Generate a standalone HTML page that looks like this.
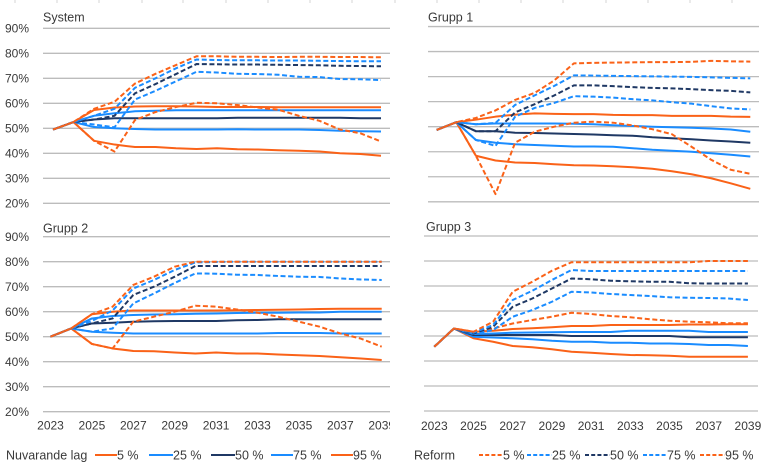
<!DOCTYPE html>
<html><head><meta charset="utf-8">
<style>
html,body{margin:0;padding:0;background:#fff;}
svg{display:block;font-family:"Liberation Sans",Arial,sans-serif;}
.t{font-size:12.5px;fill:#3a3a3a;}
.yl{font-size:12px;fill:#3a3a3a;text-anchor:end;}
.xl{font-size:12px;fill:#3a3a3a;text-anchor:middle;}
</style></head>
<body>
<svg id="c" width="763" height="463" viewBox="0 0 763 463" xmlns="http://www.w3.org/2000/svg">
<defs><clipPath id="cl"><rect x="0" y="0" width="390" height="463"/></clipPath></defs>
<rect width="763" height="463" fill="#fff"/>
<g stroke="#d4d4d4" stroke-width="1">
<line x1="15" y1="0" x2="15" y2="3"/><line x1="57" y1="0" x2="57" y2="3"/><line x1="99" y1="0" x2="99" y2="3"/><line x1="142" y1="0" x2="142" y2="3"/><line x1="183" y1="0" x2="183" y2="3"/><line x1="226" y1="0" x2="226" y2="3"/><line x1="268" y1="0" x2="268" y2="3"/><line x1="310" y1="0" x2="310" y2="3"/><line x1="352" y1="0" x2="352" y2="3"/>
<line x1="395" y1="0" x2="395" y2="3"/><line x1="437" y1="0" x2="437" y2="3"/><line x1="479" y1="0" x2="479" y2="3"/><line x1="521" y1="0" x2="521" y2="3"/><line x1="563" y1="0" x2="563" y2="3"/><line x1="606" y1="0" x2="606" y2="3"/><line x1="648" y1="0" x2="648" y2="3"/><line x1="690" y1="0" x2="690" y2="3"/><line x1="732" y1="0" x2="732" y2="3"/>
</g>
<g id="grids"></g>
<g id="lines"></g>
<!-- titles -->
<text class="t" x="43" y="21.5">System</text>
<text class="t" x="428" y="21.5">Grupp 1</text>
<text class="t" x="43" y="232.5">Grupp 2</text>
<text class="t" x="426" y="231">Grupp 3</text>
<!-- y labels top-left -->
<text class="yl" x="29" y="32.5">90%</text>
<text class="yl" x="29" y="57.5">80%</text>
<text class="yl" x="29" y="82.5">70%</text>
<text class="yl" x="29" y="107.5">60%</text>
<text class="yl" x="29" y="132.5">50%</text>
<text class="yl" x="29" y="157.5">40%</text>
<text class="yl" x="29" y="182.5">30%</text>
<text class="yl" x="29" y="207.5">20%</text>
<!-- y labels bottom-left -->
<text class="yl" x="29" y="240.9">90%</text>
<text class="yl" x="29" y="265.9">80%</text>
<text class="yl" x="29" y="290.9">70%</text>
<text class="yl" x="29" y="315.9">60%</text>
<text class="yl" x="29" y="340.9">50%</text>
<text class="yl" x="29" y="365.9">40%</text>
<text class="yl" x="29" y="390.9">30%</text>
<text class="yl" x="29" y="415.9">20%</text>
<!-- x labels -->
<g clip-path="url(#cl)">
<text class="xl" x="50.5" y="429.5">2023</text>
<text class="xl" x="91.9" y="429.5">2025</text>
<text class="xl" x="133.3" y="429.5">2027</text>
<text class="xl" x="174.7" y="429.5">2029</text>
<text class="xl" x="216.1" y="429.5">2031</text>
<text class="xl" x="257.5" y="429.5">2033</text>
<text class="xl" x="298.9" y="429.5">2035</text>
<text class="xl" x="340.3" y="429.5">2037</text>
<text class="xl" x="381.7" y="429.5">2039</text>
</g>
<text class="xl" x="434.3" y="430">2023</text>
<text class="xl" x="473.5" y="430">2025</text>
<text class="xl" x="512.7" y="430">2027</text>
<text class="xl" x="551.9" y="430">2029</text>
<text class="xl" x="591.1" y="430">2031</text>
<text class="xl" x="630.3" y="430">2033</text>
<text class="xl" x="669.5" y="430">2035</text>
<text class="xl" x="708.7" y="430">2037</text>
<text class="xl" x="747.9" y="430">2039</text>
<!-- legends -->
<g class="t">
<text x="6" y="459.5">Nuvarande lag</text>
<text x="117" y="459.5">5 %</text>
<text x="173" y="459.5">25 %</text>
<text x="235" y="459.5">50 %</text>
<text x="293" y="459.5">75 %</text>
<text x="353" y="459.5">95 %</text>
<text x="414" y="459.5">Reform</text>
<text x="503" y="459.5">5 %</text>
<text x="552" y="459.5">25 %</text>
<text x="610" y="459.5">50 %</text>
<text x="667" y="459.5">75 %</text>
<text x="725" y="459.5">95 %</text>
</g>
<g stroke-width="2" fill="none">
<line x1="95" y1="455" x2="117" y2="455" stroke="#FA6218"/>
<line x1="149" y1="455" x2="173" y2="455" stroke="#1A8CFF"/>
<line x1="211" y1="455" x2="235" y2="455" stroke="#1F3864"/>
<line x1="271" y1="455" x2="293" y2="455" stroke="#1A8CFF"/>
<line x1="331" y1="455" x2="353" y2="455" stroke="#FA6218"/>
<g stroke-dasharray="4,2.2">
<line x1="479" y1="455" x2="503" y2="455" stroke="#FA6218"/>
<line x1="527" y1="455" x2="552" y2="455" stroke="#1A8CFF"/>
<line x1="585" y1="455" x2="610" y2="455" stroke="#1F3864"/>
<line x1="643" y1="455" x2="667" y2="455" stroke="#1A8CFF"/>
<line x1="700" y1="455" x2="725" y2="455" stroke="#FA6218"/>
</g>
</g>
</svg>
<script>
(function(){
var NS="http://www.w3.org/2000/svg";
var OR="#FA6218",LB="#1A8CFF",NV="#1F3864";
var cols=[OR,LB,NV,LB,OR];
var P=[
{x0:53,dx:20.5,y0:253.3,k:2.5,g1:43,g2:390,clip:true,
S:[[49.5,52.5,45,43.5,42.5,42.5,42,41.7,42,41.6,41.5,41.2,41,40.7,40,39.7,39],
[49.5,52.5,50.5,50,49.7,49.5,49.5,49.5,49.5,49.6,49.5,49.5,49.5,49.3,49,48.8,48.7],
[49.5,52.5,53.5,54,54,54,54,54,54,54.2,54.2,54.2,54.2,54.2,54.2,54,54],
[49.5,52.5,55,56,56.8,57,57.2,57.2,57.2,57.2,57.2,57.2,57.2,57.2,57.2,57.2,57.2],
[49.5,52.5,57.3,58.3,58.7,58.8,58.8,58.7,58.5,58.5,58.5,58.4,58.4,58.4,58.4,58.4,58.4]],
D:[[49.5,52.5,45,40.7,53.3,56.5,58.5,60.2,60,59.3,58.3,57.4,55,53,49.5,48,44.7],
[49.5,52.5,51.5,50.4,61.5,65,68.8,72.6,72.3,71.8,71.7,71.4,70.6,70.5,69.7,69.6,69.3],
[49.5,52.5,53.5,55,64,67.7,71.7,75.7,75.6,75.5,75.5,75.4,75.3,75.2,75,74.9,74.8],
[49.5,52.5,55,57.8,66.2,70,74,77.5,77.3,77.2,77.2,77.1,77.1,77,76.9,76.8,76.8],
[49.5,52.5,57.8,60.6,67.9,71.8,75.3,78.8,78.8,78.6,78.6,78.5,78.6,78.6,78.5,78.5,78.4]]},
{x0:436.7,dx:19.6,y0:251.9,k:2.504,g1:428,g2:759,clip:false,
S:[[48.7,51.8,38.4,36.5,35.7,35.5,35,34.6,34.5,34.2,33.8,33.2,32.2,31,29.4,27.4,25.2],
[48.7,51.8,44.7,43.6,43,42.7,42.4,42.1,42.1,42,41.4,40.8,40.4,40,39.4,38.8,38.1],
[48.7,51.8,48.2,48.2,47.6,47.5,47.3,47.1,46.9,46.6,46.4,45.8,45.4,45,44.5,44.1,43.6],
[48.7,51.8,51,51.3,51.3,51.3,51.3,51.2,51,50.6,50.3,50,49.8,49.6,49.3,48.9,48],
[48.7,51.8,52.8,54,54.8,55.3,55.1,55,55,54.7,54.6,54.6,54.3,54.3,54.3,54,53.9]],
D:[[48.7,51.8,38.4,23.1,43.6,48,50,51.6,52,51.6,50.5,49,47,42,36.8,32.8,31.2],
[48.7,51.8,44.7,42.3,54,57.5,59.5,62.2,62,61.6,61,60.5,59.8,59.2,58.2,57.3,56.9],
[48.7,51.8,48.2,48.2,55.7,59,62.5,66.5,66.5,66.2,65.8,65.5,65.3,65,64.6,64.3,63.7],
[48.7,51.8,51,51.5,58.7,62.5,66.3,70.5,70.4,70.3,70.2,70.1,70,69.9,69.7,69.5,69.3],
[48.7,51.8,53.5,56.5,60.7,63.5,68.5,75.3,75.5,75.6,75.7,75.8,75.8,75.9,76.3,76.1,76]]},
{x0:50.5,dx:20.7,y0:461.7,k:2.5,g1:43,g2:390,clip:true,
S:[[50,53.3,47.1,45.3,44.3,44.2,43.7,43.3,43.7,43.3,43.3,42.9,42.6,42.3,41.8,41.3,40.7],
[50,53.3,52,51.6,51.3,51.3,51.3,51.3,51.3,51.3,51.3,51.5,51.5,51.5,51.3,51.3,51.3],
[50,53.3,55.3,55.6,56,56.2,56.3,56.3,56.3,56.6,56.7,57,57,57,57,57,57],
[50,53.3,57.3,58.3,58.7,58.9,59,59.2,59.3,59.5,59.6,59.6,59.7,59.7,60,60,60],
[50,53.3,59,60,60.5,60.5,60.5,60.5,60.5,60.6,60.7,60.8,60.9,61.1,61.2,61.2,61.2]],
D:[[50,53.3,47.1,45.3,56,58,60,62.4,62,60.9,59.6,58,56,54,51.3,49.2,46],
[50,53.3,52,53.3,63.3,67.3,71.5,75.3,75.2,74.8,74.7,74.3,74,73.9,73.3,72.9,72.7],
[50,53.3,55.3,57.3,66.7,70,74,78.3,78.3,78.3,78.3,78.3,78.3,78.3,78.3,78.3,78.3],
[50,53.3,56.3,60.5,69.3,72.7,76.7,79.7,79.9,80,80,80,80,80,80,80,80],
[50,53.3,59,62,70.7,74,78,80,80,80,80,80,80,80,80,80,80]]},
{x0:434.3,dx:19.6,y0:461,k:2.5,g1:424,g2:758,clip:false,
S:[[45.7,53,49.1,47.7,46,45.5,44.7,43.7,43.3,42.8,42.4,42.3,42.1,41.7,41.7,41.7,41.7],
[45.7,53,49.7,49.4,49.1,48.7,48.1,47.7,47.7,47.3,47.3,47,47,46.8,46.4,46.4,46],
[45.7,53,50.4,50.4,50.4,50.4,50.4,50,50,50,50,50,50,49.5,49.5,49.5,49.5],
[45.7,53,50.8,51,51.3,51.4,51.5,51.6,51.6,51.6,52.1,52.1,52.1,52.1,51.6,51.6,51.6],
[45.7,53,51.7,52.1,52.8,53.1,53.5,54,54,54.4,54.4,54.4,54.4,54.6,54.6,54.7,54.7]],
D:[[45.7,53,51.3,53,55,56.4,57.7,59.3,58.8,58,57.5,56.7,56.1,55.7,55.5,55.1,55.1],
[45.7,53,50.8,52.4,57.7,60.4,63.7,67.7,67.4,66.8,66.4,66,65.5,65.3,65.2,65,64.4],
[45.7,53,51,53.7,61.7,65,69,73,72.7,72.1,71.9,71.7,71.7,71.1,71,71,71],
[45.7,53,51.3,54.4,64.4,68.1,72.4,76.4,76,76,76,76,76,76,76,76,76],
[45.7,53,51.7,55.7,67.7,71.7,76.1,79.5,79.5,79.5,79.5,79.5,79.5,79.5,80,80,80]]}
];
var grids=document.getElementById("grids"),lines=document.getElementById("lines");
P.forEach(function(p){
  for(var v=20;v<=90;v+=10){
    var l=document.createElementNS(NS,"line");var y=(p.y0-p.k*v).toFixed(2);
    l.setAttribute("x1",p.g1);l.setAttribute("x2",p.g2);l.setAttribute("y1",y);l.setAttribute("y2",y);
    l.setAttribute("stroke","#bcbcbc");l.setAttribute("stroke-width","1.3");grids.appendChild(l);
  }
  var g=document.createElementNS(NS,"g");
  if(p.clip)g.setAttribute("clip-path","url(#cl)");
  function add(arr,c,dash){
    var pts=arr.map(function(v,i){return (p.x0+p.dx*i).toFixed(2)+","+(p.y0-p.k*v).toFixed(2);}).join(" ");
    var pl=document.createElementNS(NS,"polyline");
    pl.setAttribute("points",pts);pl.setAttribute("fill","none");pl.setAttribute("stroke",c);
    pl.setAttribute("stroke-width","2");pl.setAttribute("stroke-linejoin","round");
    if(dash)pl.setAttribute("stroke-dasharray","5,2.6");
    g.appendChild(pl);
  }
  p.S.forEach(function(a,i){add(a,cols[i],false);});
  p.D.forEach(function(a,i){add(a,cols[i],true);});
  lines.appendChild(g);
});
})();
</script>
</body></html>
